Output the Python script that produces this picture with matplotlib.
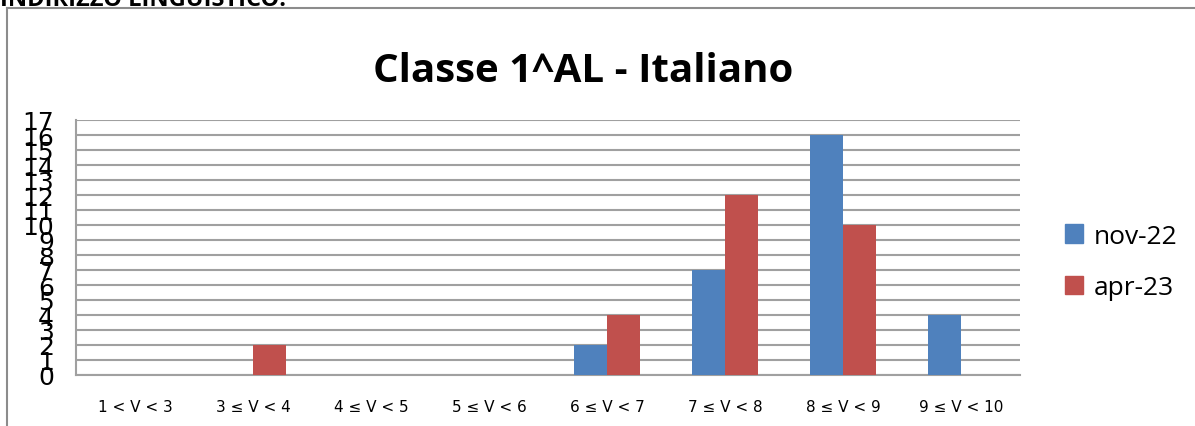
import numpy as np
import matplotlib
matplotlib.use("Agg")
from matplotlib import pyplot as plt
from matplotlib.lines import Line2D
from matplotlib.patches import Patch

categories = ["1 < V < 3", "3 ≤ V < 4", "4 ≤ V < 5", "5 ≤ V < 6",
              "6 ≤ V < 7", "7 ≤ V < 8", "8 ≤ V < 9", "9 ≤ V < 10"]
nov22 = [0, 0, 0, 0, 2, 7, 16, 4]
apr23 = [0, 2, 0, 0, 4, 12, 10, 0]
series_names = ["nov-22", "apr-23"]
yticks = list(range(0, 18))

blue = "#4F81BD"
red = "#C0504D"
grid_col = "#A0A0A0"
narrow = ["Liberation Sans Narrow", "DejaVu Sans"]

fig = plt.figure(figsize=(11.95, 4.27), dpi=100)
W, H = 1195, 427

# cornice esterna del grafico
fig.add_artist(Line2D([7 / W, 7 / W], [0, 1 - 9 / H], color="#8C8C8C", lw=1.5))
fig.add_artist(Line2D([7 / W, 1], [1 - 9 / H, 1 - 9 / H], color="#8C8C8C", lw=1.5))

# testo tagliato in alto
fig.text(0.0, 1 - 6 / H, "INDIRIZZO LINGUISTICO:", fontsize=17, fontweight="bold",
         va="baseline", ha="left", family=["Open Sans", "DejaVu Sans"])

ax = fig.add_axes([76 / W, 51 / H, (1020 - 76) / W, (376 - 121) / H])

x = np.arange(len(categories))
w = 0.28
ax.bar(x - w / 2, nov22, width=w, color=blue, label=series_names[0], zorder=3)
ax.bar(x + w / 2, apr23, width=w, color=red, label=series_names[1], zorder=3)

ax.set_xlim(-0.5, len(categories) - 0.5)
ax.set_ylim(0, 17)
ax.set_yticks(yticks)
ax.set_yticklabels([str(v) for v in yticks], family=narrow, fontsize=18)
ax.set_xticks(x)
ax.set_xticklabels(categories, family=narrow, fontsize=11)
ax.tick_params(axis="both", length=0)
ax.tick_params(axis="y", pad=16)
ax.tick_params(axis="x", pad=17)
ax.yaxis.grid(True, color=grid_col, lw=1.5, zorder=0)

for side in ["top", "right"]:
    ax.spines[side].set_visible(False)
ax.spines["left"].set_color(grid_col)
ax.spines["bottom"].set_color(grid_col)
ax.spines["left"].set_linewidth(1.5)
ax.spines["bottom"].set_linewidth(1.5)

fig.text(583 / W, 1 - 72 / H, "Classe 1^AL - Italiano", fontsize=29, fontweight="bold",
         ha="center", va="center", family=["Open Sans", "DejaVu Sans"])

handles = [Patch(color=blue), Patch(color=red)]
fig.legend(handles, series_names, loc="center left", bbox_to_anchor=(1041 / W, 1 - 263 / H),
           frameon=False, handlelength=0.7, handleheight=0.7,
           handletextpad=0.4, labelspacing=1.0, prop={"family": "Open Sans", "size": 19})

fig.savefig("out.png", dpi=100)
